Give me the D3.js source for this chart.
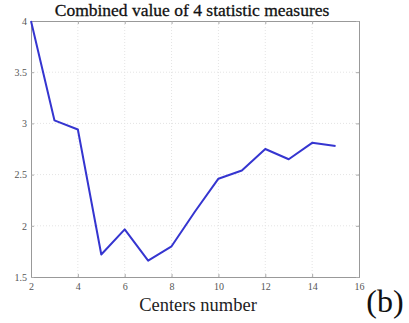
<!DOCTYPE html>
<html>
<head>
<meta charset="utf-8">
<script src="https://cdn.jsdelivr.net/npm/d3@7"></script>
<style>
  html, body { margin: 0; padding: 0; background: #fff; }
  svg { display: block; }
</style>
</head>
<body>
<svg id="chart" width="409" height="323"></svg>
<script>
// Number of centers vs. combined score of the four statistic measures
const centers = [2, 3, 4, 5, 6, 7, 8, 9, 10, 11, 12, 13, 14, 15];
const combinedValue = [4.0, 3.03, 2.94, 1.72, 1.965, 1.66, 1.80, 2.14, 2.46, 2.54, 2.75, 2.65, 2.81, 2.78];
const xTicks = [2, 4, 6, 8, 10, 12, 14, 16];
const yTicks = [1.5, 2, 2.5, 3, 3.5, 4];
const yTickLabels = ["1.5", "2", "2.5", "3", "3.5", "4"];

(function () {
const svg = d3.select("#chart");
const plotLeft = 31, plotRight = 359, plotTop = 21, plotBottom = 277;

const x = d3.scaleLinear().domain([2, 16]).range([plotLeft, plotRight]);
const y = d3.scaleLinear().domain([1.5, 4]).range([plotBottom, plotTop]);

const serif = "'Liberation Serif', 'Times New Roman', serif";

// grid
const grid = svg.append("g");
grid.selectAll(".gx").data(xTicks.slice(1, -1)).join("line")
  .attr("x1", d => x(d)).attr("x2", d => x(d))
  .attr("y1", plotTop).attr("y2", plotBottom)
  .attr("stroke", "#e4e4e4").attr("stroke-width", 1)
  .attr("stroke-dasharray", "1,2");
grid.selectAll(".gy").data(yTicks.slice(1, -1)).join("line")
  .attr("x1", plotLeft).attr("x2", plotRight)
  .attr("y1", d => y(d)).attr("y2", d => y(d))
  .attr("stroke", "#e4e4e4").attr("stroke-width", 1)
  .attr("stroke-dasharray", "1,2");

// axes
const xAxis = d3.axisBottom(x).tickValues(xTicks).tickSize(-3).tickPadding(6).tickFormat(d3.format("d"));
const yAxis = d3.axisLeft(y).tickValues(yTicks).tickSize(-3).tickPadding(4).tickFormat((d, i) => yTickLabels[i]);
const xTop = d3.axisTop(x).tickValues(xTicks).tickSize(-3).tickFormat("");
const yRight = d3.axisRight(y).tickValues(yTicks).tickSize(-3).tickFormat("");

function styleAxis(g) {
  g.select(".domain").attr("stroke", "#999").attr("stroke-width", 1);
  g.selectAll(".tick line").attr("stroke", "#aaa");
  g.selectAll(".tick text").attr("fill", "#555").attr("font-family", serif).attr("font-size", 10);
}
svg.append("g").attr("transform", `translate(0,${plotBottom})`).call(xAxis).call(styleAxis);
svg.append("g").attr("transform", `translate(${plotLeft},0)`).call(yAxis).call(styleAxis);
svg.append("g").attr("transform", `translate(0,${plotTop})`).call(xTop).call(styleAxis);
svg.append("g").attr("transform", `translate(${plotRight},0)`).call(yRight).call(styleAxis);

// series
const line = d3.line().x((d, i) => x(centers[i])).y(d => y(d));
svg.append("path").datum(combinedValue)
  .attr("d", line)
  .attr("fill", "none")
  .attr("stroke", "#3535d0")
  .attr("stroke-width", 2)
  .attr("stroke-linejoin", "round");

// titles
svg.append("text").attr("x", 192).attr("y", 16)
  .attr("text-anchor", "middle").attr("font-family", serif).attr("font-size", 17.5)
  .attr("fill", "#111").attr("stroke", "#111").attr("stroke-width", 0.3)
  .text("Combined value of 4  statistic measures");
svg.append("text").attr("x", 198).attr("y", 311)
  .attr("text-anchor", "middle").attr("font-family", serif).attr("font-size", 18.5)
  .attr("fill", "#222")
  .text("Centers number");
svg.append("text").attr("x", 385).attr("y", 312)
  .attr("text-anchor", "middle").attr("font-family", serif).attr("font-size", 32)
  .attr("fill", "#111")
  .text("(b)");
})();
</script>
</body>
</html>
